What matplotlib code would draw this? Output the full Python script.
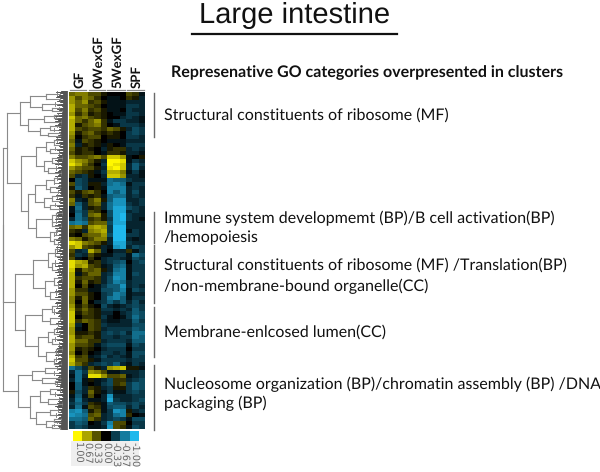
import matplotlib
matplotlib.use("Agg")
import matplotlib.pyplot as plt
import numpy as np
from matplotlib.colors import LinearSegmentedColormap

plt.rcParams['font.family'] = ['Lato', 'Noto Sans CJK JP', 'DejaVu Sans']
plt.rcParams['text.hinting'] = 'no_hinting'

samples = ["GF", "0WexGF", "5WexGF", "SPF"]
scale_labels = ["1.00", "0.67", "0.33", "0.00", "-0.33", "-0.67", "-1.00"]
scale_values = [1.0, 0.67, 0.33, 0.0, -0.33, -0.67, -1.0]

# expression, tenths (3 columns per sample)
rows = [
    [4, 5, 5, 3, 3, 1, 0, 0, 0, 3, 2, -1],
    [6, 3, 5, 4, 2, 0, -1, -1, 0, 2, 1, -2],
    [6, 4, 6, 2, 3, 1, -1, -1, -1, -2, -2, -2],
    [7, 4, 4, 3, 2, 0, -1, -1, -1, -3, -3, -2],
    [7, 3, 5, 2, 3, 1, -1, -1, 0, -3, -2, -2],
    [6, 2, 4, 1, 2, 1, 0, -1, -1, -3, -3, -2],
    [8, 4, 5, 3, 2, 1, 0, 0, -2, -3, -2, -1],
    [7, 4, 2, 4, 6, 2, -1, -3, -3, -2, -2, -1],
    [7, 1, 3, 4, 5, 2, 0, -1, -3, -3, -3, -2],
    [7, 3, 2, 3, 3, 2, 4, 3, 1, -2, -4, -3],
    [6, 1, 3, 4, 2, 1, 2, 1, 0, -3, -4, -3],
    [5, 0, 2, 3, 3, 0, 1, 1, 0, -3, -3, -2],
    [4, -1, 3, 2, 1, 0, -1, -1, -1, -2, -2, -2],
    [5, -2, 1, 2, 1, -1, 1, 0, -1, -3, -3, -3],
    [4, 1, 2, 1, 0, -2, 1, 2, 2, -2, -3, -2],
    [3, 1, 2, 2, 0, -1, 2, 2, 1, -2, -2, -1],
    [5, 3, 3, 4, 5, 3, 8, 8, 6, -1, 0, 1],
    [8, 6, 5, 3, 1, -2, 10, 10, 9, -1, -3, -2],
    [9, 7, 4, 2, 0, -3, 10, 9, 8, -2, -5, -3],
    [6, 4, 3, 3, 1, -2, 9, 10, 8, -2, -5, -2],
    [4, 3, 2, 1, -1, -3, 7, 7, 5, -1, -3, -1],
    [3, -2, -3, 1, 0, -2, 8, 8, 6, -2, -2, -1],
    [0, -4, -3, -1, -1, -1, -6, -5, -5, -3, -2, -2],
    [3, -4, -3, 1, 1, -2, -6, -7, -6, -1, -3, -3],
    [1, -5, -3, 0, 1, -1, -7, -7, -7, -2, -3, -2],
    [3, 1, 3, 4, 2, 0, -7, -5, -7, -2, -4, -2],
    [2, -1, 2, 1, 2, -1, -5, -6, -6, -2, -3, -2],
    [5, -2, -1, 3, 5, 1, -5, -8, -8, -2, -2, -3],
    [4, -5, -2, 3, 4, -2, -6, -8, -8, -3, -2, -3],
    [-1, -6, -2, 1, 2, -2, -6, -9, -9, -4, -3, -2],
    [-1, -5, -3, 3, 2, 0, -4, -9, -9, -2, -3, -2],
    [0, -6, -3, 4, 5, 1, -4, -9, -10, -3, -2, -2],
    [-2, -6, -4, 2, 3, 1, -3, -9, -10, -3, -2, -1],
    [-6, -7, -6, 3, 4, 4, -4, -9, -9, -2, -2, -2],
    [4, 5, 2, 6, 7, 6, -3, -10, -10, -2, -2, -2],
    [2, 1, -2, 5, 6, 7, -3, -10, -10, -1, -3, -2],
    [1, 0, 3, 4, 4, 6, -4, -10, -10, -3, -3, -2],
    [5, 4, 1, 3, 5, 5, -2, -10, -10, -2, -1, -2],
    [9, 8, 5, 4, 3, 1, -2, -9, -9, -3, -2, -2],
    [6, 8, 3, 2, 1, -2, -1, -8, -9, -2, -4, -3],
    [3, -2, -3, 7, 4, -2, 0, -2, -2, 2, -1, -3],
    [2, -3, -2, 3, 1, -1, -1, -3, -3, -1, -6, -4],
    [3, -1, 0, 2, 0, -2, -3, -3, -2, -1, -4, -3],
    [9, 7, 6, 1, 2, -2, -3, -4, -5, 0, -3, -4],
    [9, 6, 7, 3, 2, -1, -2, -5, -6, -1, -3, -3],
    [8, 1, 4, 3, 4, 1, -2, -6, -7, -1, -3, -3],
    [7, -1, 2, 4, 4, -2, -3, -7, -7, -1, -4, -3],
    [7, 2, 3, 3, 2, -2, -4, -8, -7, -1, -3, -3],
    [7, 1, 4, 1, 2, -2, -4, -7, -6, -2, -3, -3],
    [7, 0, 3, 0, -1, -3, -5, -5, -8, -2, -3, -2],
    [6, 2, 2, -1, -1, -4, -4, -5, -7, -1, -4, -3],
    [6, 3, 3, 1, 0, -3, -4, -7, -6, -1, -2, -2],
    [5, 1, 4, 1, 0, -3, -6, -7, -5, -1, -3, -3],
    [5, 0, 4, 0, -2, -3, -5, -3, -5, -2, -4, -2],
    [6, 1, 3, 1, 0, -4, -2, -1, -2, -3, -4, -3],
    [7, 2, 4, 2, 1, -3, -3, -2, -3, -2, -5, -3],
    [8, 1, 3, 2, 1, -2, -2, 0, -2, -3, -5, -4],
    [8, 0, 2, 2, 1, -3, -1, 0, -1, -3, -6, -4],
    [8, 2, 4, 3, 2, -2, -1, -1, -2, -2, -5, -3],
    [7, -2, 0, 3, 2, -3, -2, -2, -2, -2, -4, -4],
    [6, -1, 0, 3, 2, -2, -3, -3, -3, -3, -5, -4],
    [6, 1, 1, 2, 1, -3, -4, -3, -4, -2, -6, -6],
    [7, 2, 3, 3, 1, -3, -3, -2, -3, -3, -6, -5],
    [7, 4, 4, 2, 2, -2, -3, -3, -3, -2, -5, -5],
    [6, 3, 3, 2, -1, -3, -4, -4, -4, -1, -4, -3],
    [6, 1, 2, 1, 0, -2, -3, -3, -3, 0, -3, -3],
    [5, 0, 2, 0, -1, -3, -3, -2, -3, -1, -4, -4],
    [7, 2, 3, -1, -2, -4, -2, -3, -2, -1, -4, -3],
    [8, 3, 3, 1, -1, -3, -3, -3, -3, -2, -3, -3],
    [7, 4, 2, -2, -3, -4, -3, -5, -2, -1, -3, -2],
    [-6, -4, -2, 3, 1, -2, 6, 7, 8, 1, 1, -1],
    [-2, -6, -3, 6, 5, 3, -1, -1, -2, -2, -2, -3],
    [-1, -6, -2, 9, 9, 6, 3, 3, 4, -1, -2, -3],
    [-2, -6, -1, 1, -1, -2, -4, 2, 2, -2, -3, -4],
    [0, -5, -1, 0, -1, -3, -4, 2, 3, -3, -5, -4],
    [0, -5, -2, 2, 1, -2, -3, 1, 1, -3, -5, -4],
    [1, -4, -2, 4, 1, -1, -3, -1, -1, -3, -4, -3],
    [-1, -5, -1, 3, 0, -2, -8, -2, -2, -2, -3, -3],
    [-2, -6, -2, -1, -1, -2, -9, -3, -2, -2, -3, -4],
    [-3, -5, -3, 2, 1, -1, -5, -4, -4, -3, -4, -3],
    [-2, -6, -1, 3, 2, -1, -4, -5, -5, -2, -4, -2],
    [-7, -8, -5, 1, 3, -1, -3, -8, -7, 1, -2, -3],
    [-8, -7, -6, 3, 4, -2, -3, -6, -7, 2, 0, -1],
    [-6, -6, -5, 4, 2, -2, -3, -4, -3, -1, -4, -4],
    [-3, -5, -4, 0, -1, -3, -7, 3, 3, 0, -3, -3],
    [-3, -4, -3, -1, -1, -2, -8, 3, 2, -1, -4, -3],
]

# dendrogram: [merge x, child, child], an int is a bunch of that many leaves
tree = [3,
        [2.5,
         [7,
          [20, [30, [46, 6, 5], [42, 5, [52, 3, 3]]],
           [28, [44, [54, 4, 3], 5], [40, [50, 3, 4], [48, 3, 3]]]],
          [21, [36, [46, [54, 5, 4], [50, 4, 5]], [44, [52, 5, 5], [48, 5, 5]]],
           [28, [35, [46, [54, 5, 4], [50, 5, 4]], [44, [52, 5, 4], [50, 4, 4]]],
            [36, [52, [56, 5, 4], [52, 4, 4]], [50, [56, 5, 4], [54, 5, 4]]]]]],
         [15, [33, [48, [55, 7, 7], [52, 7, 7]], [45, [54, 8, 7], [50, 7, 7]]],
          [25, [42, [52, 6, 6], [50, 6, 6]],
           [38, [48, [54, 5, 5], [52, 5, 5]], [46, [56, 5, 5], [54, 5, 4]]]]]],
        [18, [32, [45, 5, 5], [42, 4, [55, 3, 3]]],
         [30, [40, [50, 6, 5], [48, 5, 5]],
          [36, [50, 6, 5], [46, [54, 3, 3], [52, 3, 3]]]]]]
leaf_starts = [60, 63, 58, 62, 65, 61, 59, 64, 60, 57, 63, 61]

go_text = [
    (115, "Structural constituents of ribosome (MF)"),
    (218, "Immune system developmemt (BP)/B cell activation(BP)"),
    (238, "/hemopoiesis"),
    (265, "Structural constituents of ribosome (MF) /Translation(BP)"),
    (286, "/non-membrane-bound organelle(CC)"),
    (332, "Membrane-enlcosed lumen(CC)"),
    (384, "Nucleosome organization (BP)/chromatin assembly (BP) /DNA"),
    (403, "packaging (BP)"),
]
go_bars = [(93, 137), (212, 243), (245, 303), (307, 357), (365, 430)]

cmap = LinearSegmentedColormap.from_list("expr", ["#1fb8ec", "#000000", "#fff700"])

fig = plt.figure(figsize=(6.0, 4.72), dpi=100)
ax = fig.add_axes([0, 0, 1, 1])
ax.set_xlim(0, 600)
ax.set_ylim(472, 0)
ax.axis("off")

# heatmap
data = np.array(rows) / 10.0
ax.imshow(data, cmap=cmap, vmin=-1, vmax=1, extent=(69, 145, 429, 92),
          aspect="auto", interpolation="nearest")

# dendrogram
y_next = [91]
n_comb = [0]


def draw_node(node):
    if isinstance(node, int):
        comb_x = leaf_starts[n_comb[0] % len(leaf_starts)] - 3
        n_comb[0] += 1
        y0 = y_next[0]
        for i in range(node):
            start = leaf_starts[(i + n_comb[0]) % len(leaf_starts)] - 2
            ax.plot([start, 67], [y_next[0], y_next[0]], color="#222222", lw=0.55)
            y_next[0] += 1
        y1 = y_next[0] - 1
        ax.plot([comb_x, comb_x], [y0, y1], color="#707070", lw=0.6)
        ax.plot([comb_x, 60], [(y0 + y1) / 2] * 2, color="#707070", lw=0.6)
        return comb_x, (y0 + y1) / 2
    x = node[0]
    kids = [draw_node(k) for k in node[1:]]
    ys = [k[1] for k in kids]
    ax.plot([x, x], [min(ys), max(ys)], color="#8a8a8a", lw=0.8)
    for kx, ky in kids:
        ax.plot([x, kx], [ky, ky], color="#8a8a8a", lw=0.8)
    return x, sum(ys) / len(ys)


draw_node(tree)

# sample labels
label_x = [80, 98.5, 118, 137]
under = [(70, 86), (89, 105), (107, 125), (127, 144)]
for name, lx, (u0, u1) in zip(samples, label_x, under):
    ax.text(lx, 88, name, rotation=90, ha="center", va="bottom", fontsize=9.5,
            fontweight="bold", color="#111111")
    ax.plot([u0, u1], [90, 90], color="#888888", lw=0.9)

# title
ax.text(295, 15.5, "Large intestine", ha="center", va="center", fontsize=21,
        family="Liberation Sans", color="#111111")
ax.plot([192, 397], [34, 34], color="#111111", lw=1.6)

ax.text(171, 73, "Represenative GO categories overpresented in clusters", ha="left",
        va="center", fontsize=11.5, fontweight="bold", color="#111111")

for y0, y1 in go_bars:
    ax.plot([154, 154], [y0, y1], color="#6a6a6a", lw=1.0)
for y, s in go_text:
    ax.text(163.5, y, s, ha="left", va="center", fontsize=11.5, color="#111111")

# colour scale
ax.fill_between([71, 139], 441, 466, color="#efefef", lw=0)
ax.imshow(np.array(scale_values).reshape(1, -1), cmap=cmap, vmin=-1, vmax=1,
          extent=(73, 139, 441, 431), aspect="auto", interpolation="nearest")
ax.set_xlim(0, 600)
ax.set_ylim(472, 0)
for i, s in enumerate(scale_labels):
    ax.text(73 + (i + 0.5) * 66 / 7, 442, s, rotation=-90, ha="center", va="top",
            fontsize=7, family="DejaVu Sans", color="#666666")

fig.savefig("out.png", dpi=100)
